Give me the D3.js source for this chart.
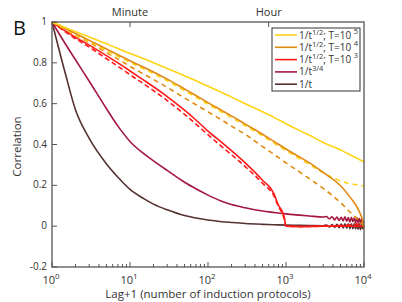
<!DOCTYPE html>
<html>
<head>
<meta charset="utf-8">
<script src="https://cdn.jsdelivr.net/npm/d3@7"></script>
<style>
  body { margin: 0; background: #fff; }
  svg text { font-family: "Open Sans", "Liberation Sans", sans-serif; fill: #333; }
</style>
</head>
<body>
<svg width="402" height="302"></svg>
<script>
const margin = { top: 22, right: 38, bottom: 35, left: 52 };
const width = 402 - margin.left - margin.right;
const height = 302 - margin.top - margin.bottom;

// lag+1 grid used by most curves
const lagGrid = [1, 1.5, 2, 3, 5, 7, 10, 15, 20, 30, 50, 70, 100, 150, 200, 300, 500, 700, 1000, 1500, 2000, 3000, 5000, 7000, 10000];

const yellowSolid = [1, 0.972, 0.953, 0.926, 0.893, 0.870, 0.846, 0.82, 0.80, 0.772, 0.737, 0.712, 0.685, 0.655, 0.632, 0.60, 0.56, 0.533, 0.502, 0.468, 0.445, 0.41, 0.373, 0.345, 0.315];

const orangeLag = [1, 1.5, 2, 3, 5, 7, 10, 15, 20, 30, 50, 70, 100, 150, 200, 300, 500, 700, 1000, 1500, 2000, 3000, 5000, 7000, 7950, 8900, 9550, 10000];
const orangeSolid = [1, 0.967, 0.944, 0.91, 0.868, 0.84, 0.81, 0.778, 0.755, 0.72, 0.672, 0.64, 0.605, 0.567, 0.54, 0.50, 0.45, 0.415, 0.378, 0.338, 0.31, 0.263, 0.198, 0.13, 0.10, 0.063, 0.03, -0.01];

const yellowDash = [1, 0.964, 0.938, 0.903, 0.86, 0.832, 0.802, 0.77, 0.747, 0.712, 0.664, 0.632, 0.597, 0.559, 0.532, 0.492, 0.442, 0.407, 0.37, 0.33, 0.302, 0.262, 0.222, 0.207, 0.197];

const orangeDashLag = [1, 1.5, 2, 3, 5, 7, 10, 15, 20, 30, 50, 70, 100, 150, 200, 300, 500, 700, 1000, 1500, 2000, 3000, 5000, 7000, 8900, 10000];
const orangeDash = [1, 0.962, 0.936, 0.90, 0.85, 0.818, 0.783, 0.745, 0.718, 0.68, 0.628, 0.595, 0.56, 0.52, 0.49, 0.45, 0.39, 0.352, 0.31, 0.265, 0.232, 0.185, 0.115, 0.06, 0.022, 0.0];

const redLag = [1, 1.5, 2, 3, 5, 7, 10, 15, 20, 30, 50, 70, 100, 150, 200, 300, 500, 700, 795, 900, 950, 1000, 1500, 3000, 6000, 10000];
const redSolid = [1, 0.955, 0.925, 0.887, 0.835, 0.80, 0.76, 0.715, 0.683, 0.635, 0.568, 0.52, 0.466, 0.41, 0.37, 0.31, 0.225, 0.16, 0.104, 0.07, 0.045, 0.0, -0.002, 0.0, 0.0, 0.0];
const redDash = [1, 0.95, 0.918, 0.877, 0.82, 0.783, 0.742, 0.697, 0.664, 0.615, 0.548, 0.50, 0.448, 0.39, 0.35, 0.292, 0.21, 0.148, 0.098, 0.06, 0.035, 0.0, -0.002, 0.0, 0.005, 0.012];

const tailLag = [1, 1.5, 2, 3, 5, 7, 10, 15, 20, 30, 50, 70, 100, 150, 200, 300, 500, 700, 1000, 1500, 2000, 3000,
  3300, 3600, 3900, 4200, 4500, 4800, 5100, 5400, 5700, 6000, 6300, 6600, 6900, 7200, 7500, 7800, 8100, 8400, 8700, 9000, 9300, 9600, 10000];
const darkRed = [1, 0.89, 0.815, 0.71, 0.575, 0.49, 0.415, 0.355, 0.32, 0.273, 0.215, 0.183, 0.152, 0.122, 0.106, 0.09, 0.074, 0.067, 0.06, 0.054, 0.05, 0.045,
  0.047, 0.036, 0.046, 0.031, 0.045, 0.028, 0.044, 0.026, 0.046, 0.024, 0.042, 0.02, 0.044, 0.022, 0.04, 0.016, 0.042, 0.018, 0.038, 0.014, 0.036, 0.012, 0.022];
const brown = [1, 0.74, 0.57, 0.43, 0.305, 0.24, 0.18, 0.135, 0.108, 0.08, 0.052, 0.04, 0.03, 0.022, 0.018, 0.013, 0.009, 0.007, 0.005, 0.004, 0.003, 0.002,
  0.006, -0.004, 0.008, -0.006, 0.009, -0.008, 0.01, -0.009, 0.011, -0.01, 0.012, -0.012, 0.012, -0.013, 0.013, -0.014, 0.014, -0.015, 0.012, -0.016, 0.01, -0.012, 0.0];

const colors = {
  yellow: "#ffd414",
  orange: "#e08a12",
  red: "#ff1a1a",
  darkRed: "#a3173f",
  brown: "#553230"
};

const yTicks = [-0.2, 0, 0.2, 0.4, 0.6, 0.8, 1];
const yTickLabels = ["-0.2", "0", "0.2", "0.4", "0.6", "0.8", "1"];
const xDecades = [1, 10, 100, 1000, 10000];
const xExponents = ["0", "1", "2", "3", "4"];
const topTicks = [10, 600];
const topLabels = ["Minute", "Hour"];

const legendItems = [
  { color: colors.yellow, base: "1/t", sup: "1/2", tail: "; T=10 ", exp: "5" },
  { color: colors.orange, base: "1/t", sup: "1/2", tail: "; T=10 ", exp: "4" },
  { color: colors.red, base: "1/t", sup: "1/2", tail: "; T=10 ", exp: "3" },
  { color: colors.darkRed, base: "1/t", sup: "3/4", tail: "", exp: "" },
  { color: colors.brown, base: "1/t", sup: "", tail: "", exp: "" }
];

const svg = d3.select("svg")
  .append("g")
  .attr("transform", `translate(${margin.left},${margin.top})`);

const x = d3.scaleLog().domain([1, 10000]).range([0, width]);
const y = d3.scaleLinear().domain([-0.2, 1]).range([height, 0]);

const line = d3.line()
  .x(d => x(d[0]))
  .y(d => y(d[1]))
  .curve(d3.curveMonotoneX);

const zip = (a, b) => a.map((v, i) => [v, b[i]]);

const series = [
  { data: zip(tailLag, brown), color: colors.brown, dash: null },
  { data: zip(tailLag, darkRed), color: colors.darkRed, dash: null },
  { data: zip(redLag, redDash), color: colors.red, dash: "5,3" },
  { data: zip(redLag, redSolid), color: colors.red, dash: null },
  { data: zip(orangeDashLag, orangeDash), color: colors.orange, dash: "5,4" },
  { data: zip(lagGrid, yellowDash), color: colors.yellow, dash: "5,4" },
  { data: zip(orangeLag, orangeSolid), color: colors.orange, dash: null },
  { data: zip(lagGrid, yellowSolid), color: colors.yellow, dash: null }
];

svg.selectAll(".curve")
  .data(series)
  .join("path")
  .attr("class", "curve")
  .attr("fill", "none")
  .attr("stroke", d => d.color)
  .attr("stroke-width", 1.6)
  .attr("stroke-dasharray", d => d.dash)
  .attr("d", d => line(d.data));

// frame
const axisColor = "#555";
svg.append("rect")
  .attr("width", width)
  .attr("height", height)
  .attr("fill", "none")
  .attr("stroke", axisColor)
  .attr("stroke-width", 1.3);

// bottom ticks, inward
const xMinor = x.ticks();
svg.append("g")
  .selectAll("line")
  .data(xMinor)
  .join("line")
  .attr("x1", d => x(d))
  .attr("x2", d => x(d))
  .attr("y1", height)
  .attr("y2", d => height - (xDecades.includes(d) ? 5 : 3))
  .attr("stroke", axisColor);

xDecades.forEach((d, i) => {
  const t = svg.append("text")
    .attr("x", x(d) - 1)
    .attr("y", height + 17)
    .attr("text-anchor", "middle")
    .attr("font-size", 11);
  t.append("tspan").text("10");
  t.append("tspan").attr("dy", -5).attr("font-size", 8).text(xExponents[i]);
});

svg.append("text")
  .attr("x", width / 2)
  .attr("y", height + 31)
  .attr("text-anchor", "middle")
  .attr("font-size", 11.5)
  .text("Lag+1 (number of induction protocols)");

// left ticks
svg.append("g")
  .selectAll("line")
  .data(yTicks)
  .join("line")
  .attr("x1", 0)
  .attr("x2", 5)
  .attr("y1", d => y(d))
  .attr("y2", d => y(d))
  .attr("stroke", axisColor);

svg.append("g")
  .selectAll("text")
  .data(yTicks)
  .join("text")
  .attr("x", -5)
  .attr("y", d => y(d) + 3)
  .attr("text-anchor", "end")
  .attr("font-size", 10)
  .text((d, i) => yTickLabels[i]);

svg.append("text")
  .attr("transform", `translate(${-31},${height / 2 + 2}) rotate(-90)`)
  .attr("text-anchor", "middle")
  .attr("font-size", 11.5)
  .text("Correlation");

// top time ticks
topTicks.forEach((d, i) => {
  svg.append("line")
    .attr("x1", x(d)).attr("x2", x(d))
    .attr("y1", 0).attr("y2", 5)
    .attr("stroke", axisColor);
  svg.append("text")
    .attr("x", x(d))
    .attr("y", -6)
    .attr("text-anchor", "middle")
    .attr("font-size", 11)
    .text(topLabels[i]);
});

// panel letter
d3.select("svg").append("text")
  .attr("x", 13)
  .attr("y", 35)
  .attr("font-size", 20)
  .style("fill", "#111")
  .text("B");

// legend
const legend = svg.append("g").attr("transform", `translate(${220},${6})`);
legend.append("rect")
  .attr("width", 88)
  .attr("height", 63)
  .attr("fill", "#fff")
  .attr("stroke", "#333")
  .attr("stroke-width", 1);

legendItems.forEach((d, i) => {
  const yy = 7 + i * 12.3;
  legend.append("line")
    .attr("x1", 3).attr("x2", 25)
    .attr("y1", yy).attr("y2", yy)
    .attr("stroke", d.color)
    .attr("stroke-width", 1.6);
  const t = legend.append("text")
    .attr("x", 27)
    .attr("y", yy + 3.5)
    .attr("font-size", 10);
  t.append("tspan").text(d.base);
  if (d.sup) t.append("tspan").attr("dy", -4).attr("font-size", 7.5).text(d.sup);
  if (d.tail) t.append("tspan").attr("dy", 4).text(d.tail);
  if (d.exp) t.append("tspan").attr("dy", -5).attr("font-size", 7.5).text(d.exp);
});
</script>
</body>
</html>
